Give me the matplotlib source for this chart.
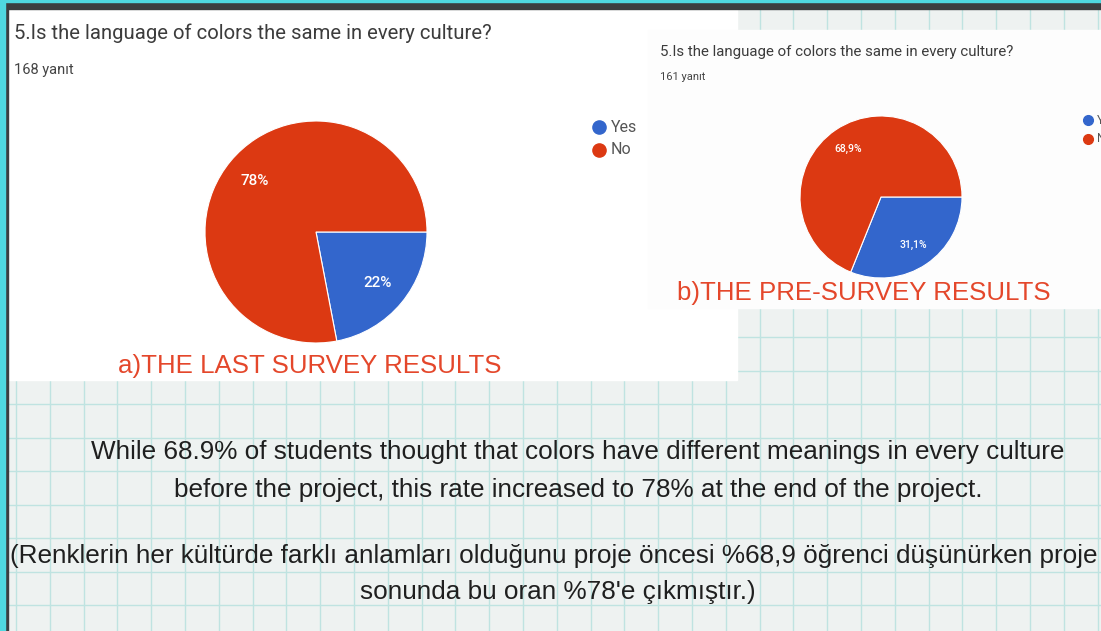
import matplotlib
matplotlib.use("Agg")
import matplotlib.pyplot as plt
from matplotlib.patches import Rectangle
import numpy as np

# Survey answers (Yes, No)
answer_labels = ["Yes", "No"]
last_values = [22, 78]
pre_values = [31.1, 68.9]
last_count = 168
pre_count = 161

question = "5.Is the language of colors the same in every culture?"
last_caption = "a)THE LAST SURVEY RESULTS"
pre_caption = "b)THE PRE-SURVEY RESULTS"
summary_en = ["While 68.9% of students thought that colors have different meanings in every culture",
              "before the project, this rate increased to 78% at the end of the project."]
summary_tr = ["(Renklerin her kültürde farklı anlamları olduğunu proje öncesi %68,9 öğrenci düşünürken proje",
              "sonunda bu oran %78'e çıkmıştır.)"]

PIE_COLORS = ["#3366cc", "#dc3912"]
CAPTION_RED = "#e4472b"
W, H = 1101, 631

fig = plt.figure(figsize=(W / 100, H / 100), dpi=100)

# background canvas in pixel coordinates (y grows downward)
bg = fig.add_axes([0, 0, 1, 1])
bg.set_xlim(0, W)
bg.set_ylim(H, 0)
bg.axis("off")
bg.add_patch(Rectangle((0, 0), W, H, color="#eef2f1", zorder=0))

# graph paper grid
for gx in np.arange(16, W, 33.8):
    bg.axvline(gx, color="#bfe3e1", lw=1.0, zorder=1)
for gy in np.arange(605, 0, -33.5):
    bg.axhline(gy, color="#bfe3e1", lw=1.0, zorder=1)

# frame edges
bg.add_patch(Rectangle((0, 0), W, 9, color="#3b3e40", zorder=6))
bg.add_patch(Rectangle((0, 0), W, 2, color="#4fd8e0", zorder=7))
bg.add_patch(Rectangle((0, 0), 8, H, color="#3b3e40", zorder=6))
bg.add_patch(Rectangle((0, 0), 5, H, color="#4fd8e0", zorder=7))

# white cards for the two screenshots
bg.add_patch(Rectangle((8, 9), 729, 371, color="white", zorder=2))
bg.add_patch(Rectangle((648, 30), W - 648, 278, color="#fdfdfd", zorder=3))

# card a texts
bg.text(14, 33, question, fontsize=14.6, family="Roboto", color="#3c3c3c",
        va="center", ha="left", zorder=4)
bg.text(14, 70, f"{last_count} yanıt", fontsize=10.5, family="Roboto", color="#444444",
        va="center", ha="left", zorder=4)
for i, lab in enumerate(answer_labels):
    bg.plot(599, 127 + 23 * i, "o", ms=9.5, color=PIE_COLORS[i], zorder=4)
    bg.text(611, 127 + 23 * i, lab, fontsize=11.5, family="Roboto", color="#555555",
            va="center", ha="left", zorder=4)

# card b texts
bg.text(660, 52, question, fontsize=10.8, family="Roboto", color="#3c3c3c",
        va="center", ha="left", zorder=4)
bg.text(660, 77, f"{pre_count} yanıt", fontsize=8, family="Roboto", color="#444444",
        va="center", ha="left", zorder=4)
for i, lab in enumerate(answer_labels):
    bg.plot(1088, 120 + 19 * i, "o", ms=7, color=PIE_COLORS[i], zorder=4)
    bg.text(1097, 120 + 19 * i, lab, fontsize=8.5, family="Roboto", color="#555555",
            va="center", ha="left", zorder=4)

bg.text(310, 366, last_caption, fontsize=18.6, family="Liberation Sans", color=CAPTION_RED,
        va="center", ha="center", zorder=5)
bg.text(864, 293, pre_caption, fontsize=18.6, family="Liberation Sans", color=CAPTION_RED,
        va="center", ha="center", zorder=5)

# summary text on the paper
for j, line in enumerate(summary_en):
    bg.text(578, 452 + 38 * j, line, fontsize=18.8, family="Liberation Sans",
            color="#1f1f1f", va="center", ha="center", zorder=5)
bg.text(10, 556, summary_tr[0], fontsize=18.8, family="Liberation Sans",
        color="#1f1f1f", va="center", ha="left", zorder=5)
bg.text(558, 592, summary_tr[1], fontsize=18.8, family="Liberation Sans",
        color="#1f1f1f", va="center", ha="center", zorder=5)


def pie_axes(cx, cy, r):
    return fig.add_axes([(cx - r) / W, (H - cy - r) / H, 2 * r / W, 2 * r / H])


def draw_pie(ax, values, fmt, fs):
    ax.pie(values, colors=PIE_COLORS, startangle=0, counterclock=False,
           autopct=fmt, pctdistance=0.72,
           wedgeprops=dict(edgecolor="white", linewidth=0.8),
           textprops=dict(color="white", fontsize=fs, fontweight="medium",
                          family="Roboto"))
    ax.set_xlim(-1, 1)
    ax.set_ylim(-1, 1)
    ax.axis("off")


ax_a = pie_axes(316, 232, 111)
draw_pie(ax_a, last_values, lambda p: f"{p:.0f}%", 11)

ax_b = pie_axes(881, 197, 81)
draw_pie(ax_b, pre_values, lambda p: f"{p:.1f}%".replace(".", ","), 7.5)

plt.savefig("out.png", dpi=100)
plt.close()
